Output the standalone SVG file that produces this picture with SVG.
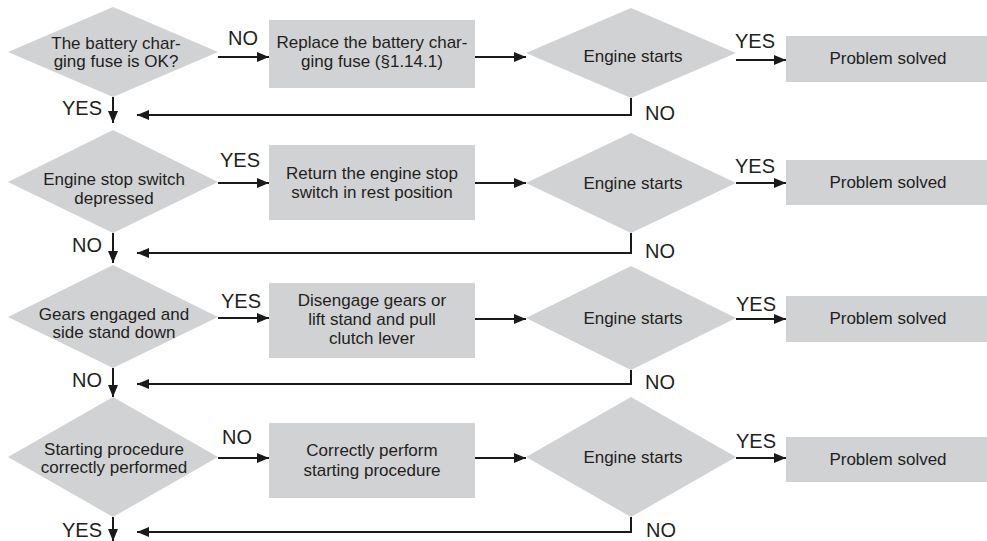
<svg xmlns="http://www.w3.org/2000/svg" width="987" height="541" viewBox="0 0 987 541">
<style>
.s{fill:#d1d2d4;stroke:none}
.t{font-family:"Liberation Sans",Arial,sans-serif;font-size:17px;fill:#231f20;text-anchor:middle}
.l{font-family:"Liberation Sans",Arial,sans-serif;font-size:20px;fill:#231f20}
.c{fill:none;stroke:#1a1a1a;stroke-width:2}
</style>
<defs>
<marker id="a" markerUnits="userSpaceOnUse" markerWidth="12" markerHeight="10" refX="12" refY="5" orient="auto">
<path d="M0,0 L12,5 L0,10 z" fill="#1a1a1a"/>
</marker>
</defs>
<rect width="987" height="541" fill="#fff"/>

<g id="d1"><polygon class="s" points="113,7 218,52 113,97 8,52"/><text class="t" x="116" y="49">The battery char-</text><text class="t" x="116" y="67">ging fuse is OK?</text></g>
<g id="r1"><rect class="s" x="269" y="20" width="206" height="68"/><text class="t" x="372" y="48">Replace the battery char-</text><text class="t" x="372" y="67">ging fuse (§1.14.1)</text></g>
<g id="e1"><polygon class="s" points="631,8 736,53 631,98 526,53"/><text class="t" x="633" y="62">Engine starts</text></g>
<g id="p1"><rect class="s" x="786" y="36" width="201" height="46"/><text class="t" x="888" y="64">Problem solved</text></g>

<g id="d2"><polygon class="s" points="113,130 218,182 113,233 8,182"/><text class="t" x="114" y="185">Engine stop switch</text><text class="t" x="114" y="204">depressed</text></g>
<g id="r2"><rect class="s" x="269" y="145" width="206" height="75"/><text class="t" x="372" y="179">Return the engine stop</text><text class="t" x="372" y="198">switch in rest position</text></g>
<g id="e2"><polygon class="s" points="631,133 736,183 631,233 526,183"/><text class="t" x="633" y="189">Engine starts</text></g>
<g id="p2"><rect class="s" x="786" y="160" width="201" height="45"/><text class="t" x="888" y="188">Problem solved</text></g>

<g id="d3"><polygon class="s" points="113,265 218,317 113,368 8,317"/><text class="t" x="114" y="320">Gears engaged and</text><text class="t" x="114" y="338">side stand down</text></g>
<g id="r3"><rect class="s" x="269" y="283" width="206" height="75"/><text class="t" x="372" y="306">Disengage gears or</text><text class="t" x="372" y="325">lift stand and pull</text><text class="t" x="372" y="344">clutch lever</text></g>
<g id="e3"><polygon class="s" points="631,266 736,318 631,370 526,318"/><text class="t" x="633" y="324">Engine starts</text></g>
<g id="p3"><rect class="s" x="786" y="296" width="201" height="46"/><text class="t" x="888" y="324">Problem solved</text></g>

<g id="d4"><polygon class="s" points="113,397 218,457 113,517 8,457"/><text class="t" x="114" y="455">Starting procedure</text><text class="t" x="114" y="473">correctly performed</text></g>
<g id="r4"><rect class="s" x="269" y="423" width="206" height="75"/><text class="t" x="372" y="456">Correctly perform</text><text class="t" x="372" y="476">starting procedure</text></g>
<g id="e4"><polygon class="s" points="631,397 736,457 631,517 526,457"/><text class="t" x="633" y="463">Engine starts</text></g>
<g id="p4"><rect class="s" x="786" y="437" width="201" height="45"/><text class="t" x="888" y="465">Problem solved</text></g>

<g id="connectors">
<path class="c" d="M218,57 H269" marker-end="url(#a)"/>
<path class="c" d="M475,57 H526" marker-end="url(#a)"/>
<path class="c" d="M736,60 H786" marker-end="url(#a)"/>
<path class="c" d="M113,97 V123" marker-end="url(#a)"/>
<path class="c" d="M631,98 V115 H137" marker-end="url(#a)"/>

<path class="c" d="M218,183 H269" marker-end="url(#a)"/>
<path class="c" d="M475,183 H526" marker-end="url(#a)"/>
<path class="c" d="M736,183 H786" marker-end="url(#a)"/>
<path class="c" d="M113,233 V263" marker-end="url(#a)"/>
<path class="c" d="M631,233 V253 H137" marker-end="url(#a)"/>

<path class="c" d="M218,318 H269" marker-end="url(#a)"/>
<path class="c" d="M475,319 H526" marker-end="url(#a)"/>
<path class="c" d="M736,319 H786" marker-end="url(#a)"/>
<path class="c" d="M113,368 V397" marker-end="url(#a)"/>
<path class="c" d="M631,370 V384 H137" marker-end="url(#a)"/>

<path class="c" d="M218,458 H269" marker-end="url(#a)"/>
<path class="c" d="M475,458 H526" marker-end="url(#a)"/>
<path class="c" d="M736,458 H786" marker-end="url(#a)"/>
<path class="c" d="M113,517 V541" marker-end="url(#a)"/>
<path class="c" d="M631,517 V532 H137" marker-end="url(#a)"/>

<text class="l" x="228" y="45">NO</text>
<text class="l" x="62" y="115">YES</text>
<text class="l" x="735" y="48">YES</text>
<text class="l" x="645" y="120">NO</text>

<text class="l" x="220" y="167">YES</text>
<text class="l" x="72" y="252">NO</text>
<text class="l" x="735" y="173">YES</text>
<text class="l" x="645" y="258">NO</text>

<text class="l" x="221" y="308">YES</text>
<text class="l" x="72" y="387">NO</text>
<text class="l" x="736" y="311">YES</text>
<text class="l" x="645" y="389">NO</text>

<text class="l" x="222" y="444">NO</text>
<text class="l" x="62" y="537">YES</text>
<text class="l" x="736" y="448">YES</text>
<text class="l" x="646" y="537">NO</text>
</g>
</svg>
